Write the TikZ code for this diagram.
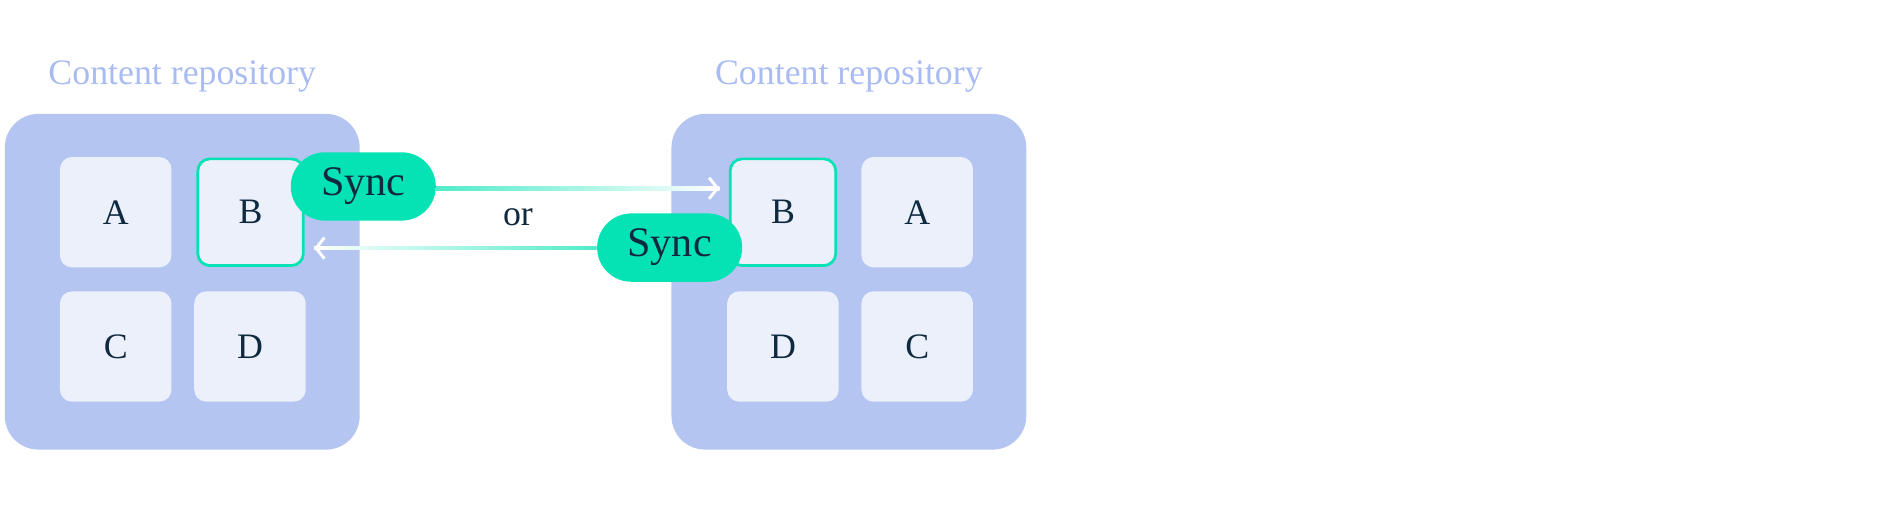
\documentclass[tikz,border=0pt]{standalone}
\usepackage{fontspec}
\setmainfont{Liberation Serif}
\usetikzlibrary{positioning, arrows.meta}
\definecolor{repofill}{HTML}{B4C5F2}
\definecolor{cardfill}{HTML}{EBF0FB}
\definecolor{synccol}{HTML}{05E3B4}
\definecolor{inkcol}{HTML}{0F2A3F}
\definecolor{titlecol}{HTML}{A9BCF2}

\begin{document}
\begin{tikzpicture}[x=0.02cm, y=-0.02cm,
  repo/.style={fill=repofill, rounded corners=0.56cm, minimum width=5.92cm, minimum height=5.6cm, inner sep=0pt},
  card/.style={fill=cardfill, rounded corners=0.2cm, minimum width=1.86cm, minimum height=1.84cm, inner sep=0pt, text=inkcol, font=\fontsize{17}{17}\selectfont},
  picked/.style={card, draw=synccol, line width=1.3pt, minimum width=1.76cm, minimum height=1.78cm},
  title/.style={text=titlecol, font=\fontsize{17}{17}\selectfont},
  sync/.style={fill=synccol, rounded corners=0.57cm, minimum width=2.42cm, minimum height=1.14cm, text=inkcol, font=\fontsize{20}{20}\selectfont},
  tip/.style={draw=white, line width=1.4pt, -{Straight Barb[length=4pt,width=10pt]}}]

  \useasboundingbox (0,0) rectangle (1568,426);

  % left repository
  \node[repo] (L) at (152,235) {};
  \node[title] (Lt) at (152,64) {Content repository};
  \node[card] (LA) at (96.5,177) {A};
  \node[picked] (LB) at (209,177) {B};
  \node[card] (LC) at (96.5,289) {C};
  \node[card] (LD) at (208.5,289) {D};

  % right repository
  \node[repo] (R) at (708,235) {};
  \node[title] (Rt) at (708,64) {Content repository};
  \node[picked] (RB) at (653,177) {B};
  \node[card] (RA) at (765,177) {A};
  \node[card] (RD) at (653,289) {D};
  \node[card] (RC) at (765,289) {C};

  % connectors
  \node[sync] (S1) at (303,155.5) {Sync};
  \node[sync] (S2) at (558.5,206.5) {Sync};
  \node[text=inkcol, font=\fontsize{17}{17}\selectfont] (or) at (432,181) {or};

  \coordinate (e1) at (600,157);
  \coordinate (e2) at (262,207);
  \shade[left color=synccol!70, right color=white] (S1.east |- 0,155.5) rectangle (e1 |- 0,158.5);
  \draw[tip] (590,157) -- (e1);
  \shade[left color=white, right color=synccol!70] (e2 |- 0,205.5) rectangle (S2.west |- 0,208.5);
  \draw[tip] (272,207) -- (e2);
\end{tikzpicture}
\end{document}
